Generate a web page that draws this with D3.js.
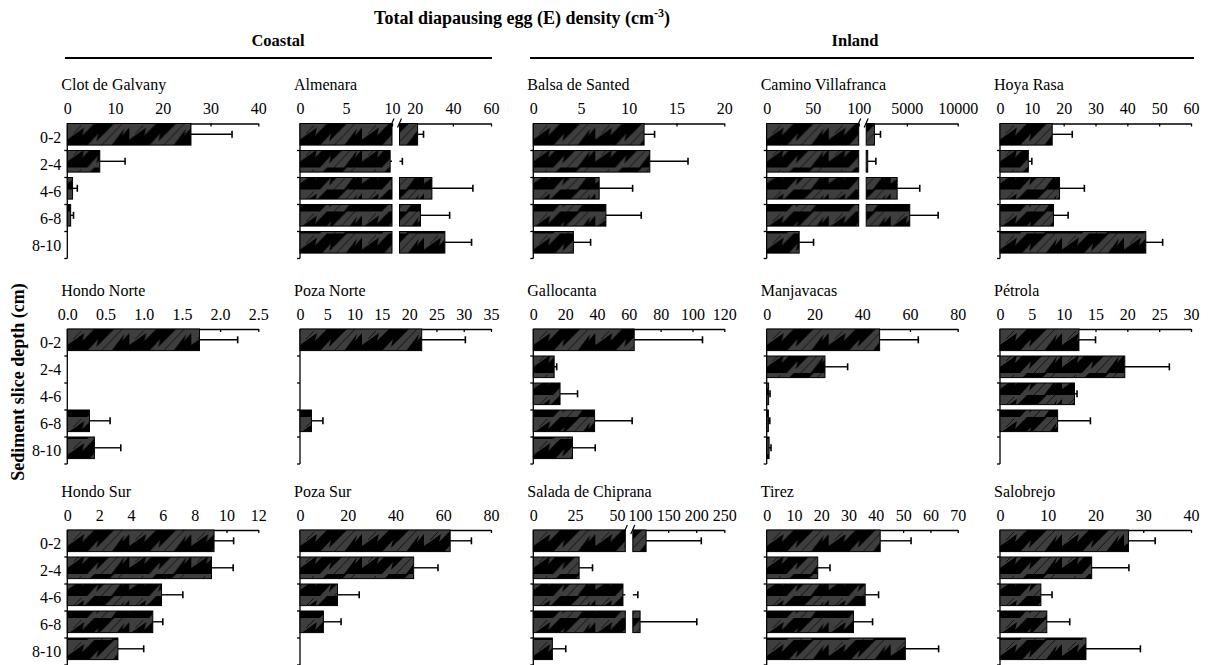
<!DOCTYPE html>
<html><head><meta charset="utf-8">
<script src="https://cdn.jsdelivr.net/npm/d3@7"></script>
<style>
body{margin:0;background:#fff}
svg{display:block}
text{font-family:"Liberation Serif","Times New Roman",serif;fill:#000}
</style>
</head><body><svg id="chart" width="1208" height="665"></svg>
<script>
// ---------------- data ----------------
const depths = ["0-2", "2-4", "4-6", "6-8", "8-10"];
const sites = [
  "Clot de Galvany", "Almenara", "Balsa de Santed", "Camino Villafranca", "Hoya Rasa",
  "Hondo Norte", "Poza Norte", "Gallocanta", "Manjavacas", "Pétrola",
  "Hondo Sur", "Poza Sur", "Salada de Chiprana", "Tirez", "Salobrejo"
];
const groupLabels = ["Coastal", "Inland"];
const means = [
  [25.9, 6.8, 1.1, 0.7, 0],
  [21.5, 9.8, 29, 23, 35.8],
  [11.6, 12.2, 6.9, 7.6, 4.2],
  [1815, 1150, 4046, 5284, 35.3],
  [16.4, 8.9, 18.7, 16.8, 45.8],
  [1.73, 0, 0, 0.29, 0.355],
  [22.3, 0, 0, 2.1, 0],
  [63.4, 13.1, 16.8, 38.5, 24.6],
  [47.3, 24.4, 0.8, 0.7, 1.0],
  [12.4, 19.6, 11.7, 9.05, 0],
  [9.22, 9.06, 5.92, 5.37, 3.18],
  [62.9, 47.6, 15.7, 9.8, 0],
  [110.7, 27.4, 53.6, 100, 11.4],
  [41.6, 18.7, 36.1, 31.8, 50.8],
  [26.9, 19.2, 8.56, 9.8, 18.0]
];
const errors = [
  [8.6, 5.3, 1.0, 0.6, 0],
  [3.1, 3.7, 21.5, 15.3, 14.0],
  [1.1, 4.0, 3.5, 3.7, 1.8],
  [590, 800, 2221, 2791, 15.6],
  [6.3, 1.1, 7.8, 4.6, 5.3],
  [0.5, 0, 0, 0.27, 0.345],
  [8.0, 0, 0, 2.1, 0],
  [42.9, 1.6, 11.0, 23.6, 14.3],
  [16.2, 9.5, 0.6, 0.6, 0.8],
  [2.6, 7.0, 0.4, 5.15, 0],
  [1.23, 1.36, 1.34, 0.63, 1.62],
  [8.9, 10.2, 9.1, 7.4, 0],
  [98.3, 8.0, 42.4, 101, 8.0],
  [11.3, 4.5, 4.9, 7.0, 12.2],
  [5.6, 7.8, 2.34, 4.8, 11.4]
];
const tickValues = [
  [0, 10, 20, 30, 40],
  [0, 5, 10],
  [0, 5, 10, 15, 20],
  [0, 50, 100],
  [0, 10, 20, 30, 40, 50, 60],
  [0, 0.5, 1.0, 1.5, 2.0, 2.5],
  [0, 5, 10, 15, 20, 25, 30, 35],
  [0, 20, 40, 60, 80, 100, 120],
  [0, 20, 40, 60, 80],
  [0, 5, 10, 15, 20, 25, 30],
  [0, 2, 4, 6, 8, 10, 12],
  [0, 20, 40, 60, 80],
  [0, 25, 50],
  [0, 10, 20, 30, 40, 50, 60, 70],
  [0, 10, 20, 30, 40]
];
// panels with a broken x axis
const breakPanels = [1, 3, 12];
const breakLeftDomains = [[0, 10], [0, 100], [0, 55]];
const breakRightDomains = [[12, 60], [1000, 10000], [87, 250]];
const breakRightTicks = [[20, 40, 60], [5000, 10000], [100, 150, 200, 250]];

// ---------------- layout ----------------
const colX = [67.3, 300, 533.3, 766.7, 1000];
const rowY = [123.5, 329, 530];
const panelW = 191, panelH = 135;
const leftSegW = 92, rightSegStart = 99.5;
const FS = 16;

const svg = d3.select("#chart");
const defs = svg.append("defs");
const pat = defs.append("pattern").attr("id", "hatch")
  .attr("patternUnits", "userSpaceOnUse").attr("width", 62).attr("height", 22);
pat.append("rect").attr("width", 62).attr("height", 22).attr("fill", "#3e3e3e");
pat.append("path").attr("fill", "#000")
  .attr("d", "M0,22 L20,22 L31,10 L29,18 L47,0 L27,0 L15,12 L17,4 L0,16 Z M44,22 L62,22 L62,4 L55,12 L57,5 Z");
pat.append("path").attr("fill", "none").attr("stroke", "#000").attr("stroke-width", 0.7)
  .attr("d", "M34,22 L55,0 M6,10 L14,2");

// headers
const title = svg.append("text").attr("x", 522).attr("y", 24)
  .attr("text-anchor", "middle").attr("font-weight", "bold").attr("font-size", 18);
title.append("tspan").text("Total diapausing egg (E) density (cm");
title.append("tspan").attr("dy", -7).attr("font-size", 12).text("-3");
title.append("tspan").attr("dy", 7).text(")");

const groupCenters = [278, 855];
const groupLines = [[65, 492], [530, 1194]];
groupLabels.forEach((g, i) => {
  svg.append("text").attr("x", groupCenters[i]).attr("y", 46).attr("text-anchor", "middle")
    .attr("font-weight", "bold").attr("font-size", 16.5).text(g);
  svg.append("line").attr("x1", groupLines[i][0]).attr("x2", groupLines[i][1])
    .attr("y1", 58).attr("y2", 58).attr("stroke", "#000").attr("stroke-width", 2);
});

svg.append("text").attr("transform", "translate(24,382) rotate(-90)")
  .attr("text-anchor", "middle").attr("font-weight", "bold").attr("font-size", 18)
  .text("Sediment slice depth (cm)");

const y = d3.scaleBand().domain(depths).range([0, panelH]).paddingInner(0).paddingOuter(0);
const barH = y.bandwidth() * 0.8;

function styleAxis(g) {
  g.attr("font-size", null).attr("font-family", null);
  g.selectAll("text").attr("font-size", FS).attr("fill", "#000");
  g.selectAll("path,line").attr("stroke", "#000").attr("stroke-width", 1.3);
}
function fmtFor(ticks) {
  return ticks.some(t => !Number.isInteger(t)) ? d3.format(".1f") : d3.format("d");
}

sites.forEach((site, p) => {
  const col = p % 5, row = Math.floor(p / 5);
  const x0 = colX[col], y0 = rowY[row];
  const g = svg.append("g").attr("transform", `translate(${x0},${y0})`);
  const bi = breakPanels.indexOf(p);

  g.append("text").attr("x", -6).attr("y", -33.5).attr("font-size", FS).text(site);

  let px, leftMax = Infinity, rightMin = Infinity, xl, xr = null;
  if (bi < 0) {
    const tv = tickValues[p];
    xl = d3.scaleLinear().domain([0, tv[tv.length - 1]]).range([0, panelW]);
    px = v => xl(v);
    const ax = d3.axisTop(xl).tickValues(tv).tickFormat(fmtFor(tv))
      .tickSizeInner(-3).tickSizeOuter(0).tickPadding(9.5);
    g.append("g").call(ax).call(styleAxis);
  } else {
    xl = d3.scaleLinear().domain(breakLeftDomains[bi]).range([0, leftSegW]);
    xr = d3.scaleLinear().domain(breakRightDomains[bi]).range([rightSegStart, panelW]);
    leftMax = breakLeftDomains[bi][1];
    rightMin = breakRightDomains[bi][0];
    px = v => (v <= leftMax ? xl(v) : xr(Math.max(v, rightMin)));
    const axL = d3.axisTop(xl).tickValues(tickValues[p]).tickFormat(d3.format("d"))
      .tickSizeInner(-3).tickSizeOuter(0).tickPadding(9.5);
    const axR = d3.axisTop(xr).tickValues(breakRightTicks[bi]).tickFormat(d3.format("d"))
      .tickSizeInner(-3).tickSizeOuter(0).tickPadding(9.5);
    g.append("g").call(axL).call(styleAxis);
    g.append("g").call(axR).call(styleAxis);
    // break marks
    [leftSegW, rightSegStart].forEach(bx => {
      g.append("line").attr("x1", bx - 2).attr("x2", bx + 2).attr("y1", 4).attr("y2", -5)
        .attr("stroke", "#000").attr("stroke-width", 1.2);
    });
  }

  // y axis
  g.append("line").attr("x1", 0).attr("x2", 0).attr("y1", 0).attr("y2", panelH)
    .attr("stroke", "#000").attr("stroke-width", 1.3);
  depths.forEach(d => {
    g.append("line").attr("x1", -3).attr("x2", 0)
      .attr("y1", y(d) + y.bandwidth()).attr("y2", y(d) + y.bandwidth())
      .attr("stroke", "#000").attr("stroke-width", 1.3);
    if (col === 0) {
      g.append("text").attr("x", -6).attr("y", y(d) + y.bandwidth() / 2)
        .attr("dy", "0.35em").attr("text-anchor", "end").attr("font-size", FS).text(d);
    }
  });

  // bars
  depths.forEach((d, i) => {
    const v = means[p][i], e = errors[p][i];
    const by = y(d), cy = by + barH / 2;
    if (v > 0) {
      if (v <= leftMax) {
        g.append("rect").attr("x", xl(0)).attr("y", by).attr("width", xl(v) - xl(0)).attr("height", barH)
          .attr("fill", "url(#hatch)").attr("stroke", "#000").attr("stroke-width", 1);
      } else {
        g.append("rect").attr("x", xl(0)).attr("y", by).attr("width", xl(leftMax) - xl(0)).attr("height", barH)
          .attr("fill", "url(#hatch)").attr("stroke", "#000").attr("stroke-width", 1);
        g.append("rect").attr("x", xr(rightMin)).attr("y", by).attr("width", xr(v) - xr(rightMin)).attr("height", barH)
          .attr("fill", "url(#hatch)").attr("stroke", "#000").attr("stroke-width", 1);
      }
    }
    if (e > 0) {
      const end = v + e;
      const segs = [];
      if (v <= leftMax && end > leftMax && xr) {
        segs.push([xl(v), xl(leftMax)]);
        segs.push([xr(rightMin), xr(end)]);
      } else {
        segs.push([px(v), px(end)]);
      }
      segs.forEach(s => {
        g.append("line").attr("x1", s[0]).attr("x2", s[1]).attr("y1", cy).attr("y2", cy)
          .attr("stroke", "#000").attr("stroke-width", 1.4);
      });
      const xe = px(end);
      g.append("line").attr("x1", xe).attr("x2", xe).attr("y1", cy - 3.5).attr("y2", cy + 3.5)
        .attr("stroke", "#000").attr("stroke-width", 1.6);
    }
  });
});
</script>
</body></html>
